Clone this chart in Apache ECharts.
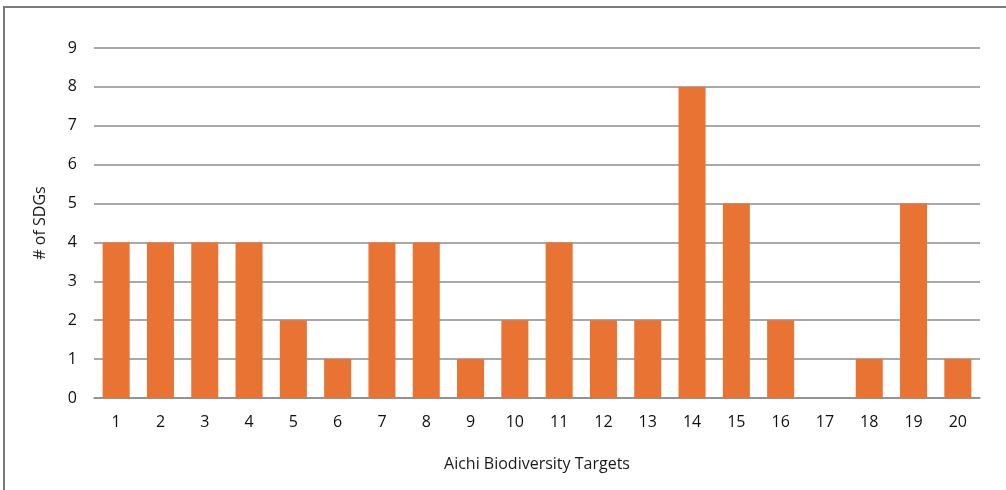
<!DOCTYPE html>
<html>
<head>
<meta charset="utf-8">
<script src="https://cdn.jsdelivr.net/npm/echarts@6/dist/echarts.min.js"></script>
<style>
  html, body { margin: 0; padding: 0; background: #fff; }
  #frame { position: absolute; left: 3px; top: 6px; width: 1003px; height: 484px;
           border-left: 2px solid #7a7a7a; border-top: 2px solid #7a7a7a; box-sizing: border-box; }
  #chart { position: absolute; left: 0; top: 0; width: 1006px; height: 490px; }
</style>
</head>
<body>
<div id="frame"></div>
<div id="chart"></div>
<script>
var targets = ['1','2','3','4','5','6','7','8','9','10','11','12','13','14','15','16','17','18','19','20'];
var sdgCounts = [4, 4, 4, 4, 2, 1, 4, 4, 1, 2, 4, 2, 2, 8, 5, 2, 0, 1, 5, 1];
var yTicks = [0, 1, 2, 3, 4, 5, 6, 7, 8, 9];

var chart = echarts.init(document.getElementById('chart'), null, { renderer: 'canvas' });

var font = '"Open Sans", "Noto Sans", sans-serif';

var option = {
  animation: false,
  grid: { left: 94, right: 26, top: 48, bottom: 92, containLabel: false },
  xAxis: {
    type: 'category',
    data: targets,
    name: 'Aichi Biodiversity Targets',
    nameLocation: 'middle',
    nameGap: 58,
    nameTextStyle: { color: '#1a1a1a', fontSize: 16, fontFamily: font },
    axisLine: { show: true, lineStyle: { color: '#8c8c8c', width: 1.5 } },
    axisTick: { show: false },
    axisLabel: { color: '#111', fontSize: 16, fontFamily: font, margin: 16 }
  },
  yAxis: {
    type: 'value',
    min: yTicks[0],
    max: yTicks[yTicks.length - 1],
    interval: 1,
    name: '# of SDGs',
    nameLocation: 'middle',
    nameGap: 46,
    nameRotate: 90,
    nameTextStyle: { color: '#1a1a1a', fontSize: 16, fontFamily: font },
    axisLine: { show: false },
    axisTick: { show: false },
    axisLabel: { color: '#111', fontSize: 16, fontFamily: font, margin: 17 },
    splitLine: { lineStyle: { color: '#8c8c8c', width: 1.5 } }
  },
  series: [{
    type: 'bar',
    data: sdgCounts,
    barWidth: '61%',
    itemStyle: { color: '#E97333' }
  }]
};

chart.setOption(option);
</script>
</body>
</html>
